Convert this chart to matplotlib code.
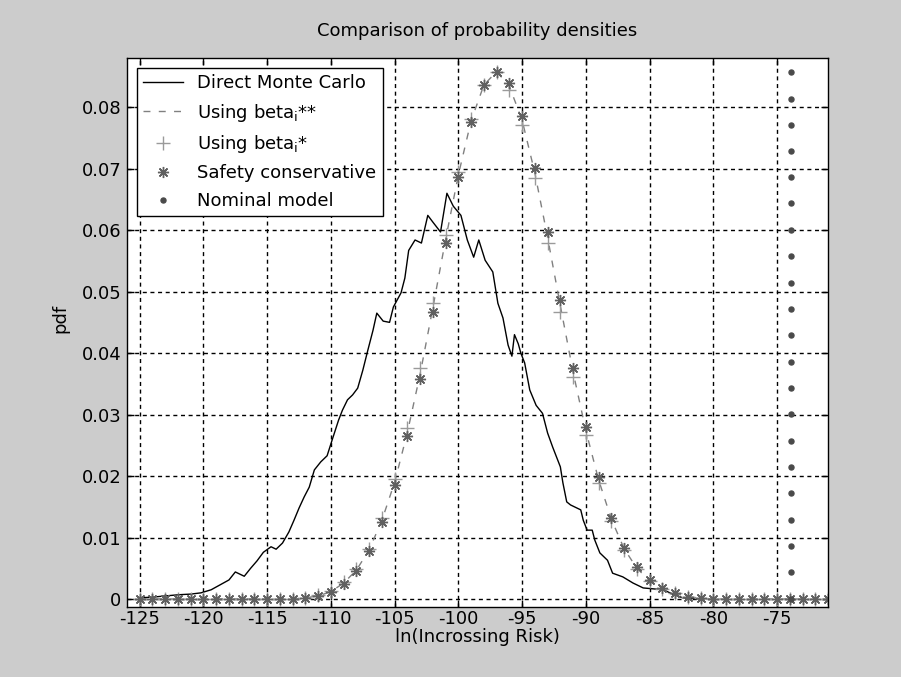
import matplotlib
matplotlib.use("Agg")
import matplotlib.pyplot as plt

plt.rcParams['font.family'] = ['DejaVu Sans']
plt.rcParams['axes.unicode_minus'] = False

# ---------------- data ----------------
# Direct Monte Carlo (noisy histogram curve)
mc_x = [-125.0, -124.0, -123.0, -121.9, -121.0, -120.2, -119.4, -118.7, -118.0, -117.5,
        -116.8, -116.3, -115.8, -115.3, -114.7, -114.3, -113.8, -113.3, -112.9, -112.5,
        -112.1, -111.7, -111.3, -110.8, -110.3, -109.9, -109.4, -109.1, -108.7, -108.3,
        -107.9, -107.5, -107.1, -106.7, -106.4, -105.9, -105.4, -105.1, -104.5, -104.2,
        -103.9, -103.4, -102.9, -102.4, -102.0, -101.4, -100.9, -100.4, -99.8, -99.3,
        -98.8, -98.4, -97.9, -97.3, -96.9, -96.5, -96.1, -95.8, -95.6, -95.3,
        -95.1, -94.8, -94.4, -93.9, -93.4, -93.0, -92.6, -92.0, -91.8, -91.5,
        -91.2, -90.4, -90.2, -89.9, -89.5, -89.3, -88.9, -88.3, -87.9, -87.1,
        -86.3, -85.5, -83.9, -83.1, -82.4, -81.0]
mc_y = [0.0002, 0.0003, 0.0005, 0.0007, 0.0008, 0.0010, 0.0015, 0.0023, 0.0031, 0.0044,
        0.0037, 0.0050, 0.0062, 0.0076, 0.0085, 0.0081, 0.0091, 0.0109, 0.0128, 0.0148,
        0.0166, 0.0182, 0.0210, 0.0223, 0.0233, 0.0259, 0.0291, 0.0307, 0.0324, 0.0332,
        0.0343, 0.0372, 0.0405, 0.0437, 0.0465, 0.0452, 0.0450, 0.0475, 0.0498, 0.0522,
        0.0567, 0.0584, 0.0579, 0.0624, 0.0613, 0.0597, 0.0660, 0.0639, 0.0624, 0.0584,
        0.0556, 0.0584, 0.0551, 0.0532, 0.0481, 0.0457, 0.0413, 0.0395, 0.0430, 0.0415,
        0.0400, 0.0384, 0.0340, 0.0315, 0.0302, 0.0270, 0.0247, 0.0215, 0.0189, 0.0158,
        0.0153, 0.0145, 0.0128, 0.0112, 0.0112, 0.0096, 0.0075, 0.0063, 0.0042, 0.0036,
        0.0026, 0.0018, 0.0015, 0.0007, 0.0002, 0.0000]

# integer grid of ln(risk) used by the analytic models
grid_x = list(range(-125, -70))

beta2_y = [0, 0, 0, 0, 0, 0, 0, 0, 0, 0, 0, 0, 0,
           0.0002, 0.0005, 0.0012, 0.0026, 0.0047, 0.0080, 0.0128, 0.0190, 0.0271, 0.0366,
           0.0474, 0.0585, 0.0690, 0.0778, 0.0836, 0.0858, 0.0834, 0.0779, 0.0693, 0.0588,
           0.0477, 0.0369, 0.0274, 0.0194, 0.0130, 0.0082, 0.0050, 0.0030, 0.0017, 0.0009,
           0.0004, 0.0001,
           0, 0, 0, 0, 0, 0, 0, 0, 0, 0]

beta1_y = [0, 0, 0, 0, 0, 0, 0, 0, 0, 0, 0, 0, 0,
           0.0002, 0.0006, 0.0013, 0.0027, 0.0049, 0.0082, 0.0132, 0.0196, 0.0278, 0.0376,
           0.0481, 0.0592, 0.0694, 0.0780, 0.0836, 0.0857, 0.0828, 0.0771, 0.0685, 0.0579,
           0.0467, 0.0361, 0.0267, 0.0189, 0.0127, 0.0080, 0.0049, 0.0029, 0.0017, 0.0009,
           0.0004, 0.0001,
           0, 0, 0, 0, 0, 0, 0, 0, 0, 0]

safety_y = [0, 0, 0, 0, 0, 0, 0, 0, 0, 0, 0, 0, 0,
            0.0002, 0.0005, 0.0012, 0.0025, 0.0046, 0.0078, 0.0125, 0.0185, 0.0265, 0.0358,
            0.0467, 0.0579, 0.0686, 0.0776, 0.0836, 0.0858, 0.0840, 0.0786, 0.0701, 0.0597,
            0.0486, 0.0376, 0.0280, 0.0198, 0.0132, 0.0083, 0.0052, 0.0031, 0.0018, 0.0010,
            0.0004, 0.0001,
            0, 0, 0, 0, 0, 0, 0, 0, 0, 0]

nominal_x = -73.9
nominal_y = [0.0, 0.0044, 0.0086, 0.0128, 0.0172, 0.0215, 0.0257, 0.0301, 0.0343, 0.0385,
             0.0429, 0.0472, 0.0514, 0.0558, 0.0600, 0.0644, 0.0686, 0.0728, 0.0771, 0.0813,
             0.0857]

xticks = [-125, -120, -115, -110, -105, -100, -95, -90, -85, -80, -75]
xticklabels = ['-125', '-120', '-115', '-110', '-105', '-100', '-95', '-90', '-85', '-80', '-75']
yticks = [0, 0.01, 0.02, 0.03, 0.04, 0.05, 0.06, 0.07, 0.08]
yticklabels = ['0', '0.01', '0.02', '0.03', '0.04', '0.05', '0.06', '0.07', '0.08']

labels = ['Direct Monte Carlo', r'Using beta$_\mathregular{i}$**',
          r'Using beta$_\mathregular{i}$*', 'Safety conservative', 'Nominal model']

# ---------------- figure ----------------
W, H = 901, 677
fig = plt.figure(figsize=(W / 100, H / 100), dpi=100, facecolor='#cccccc')
ax = fig.add_axes([127 / W, (H - 607) / H, (828 - 127) / W, (607 - 58) / H])
ax.set_facecolor('white')

star = (8, 2, 0)
ax.plot(mc_x, mc_y, color='black', lw=1.0, label=labels[0])
ax.plot(grid_x, beta2_y, color='#808080', lw=1.0, linestyle=(0, (5, 6)), label=labels[1])
ax.plot(grid_x, beta1_y, linestyle='none', marker='+', markersize=10, markeredgewidth=1.0,
        color='#9a9a9a', label=labels[2])
ax.plot(grid_x, safety_y, linestyle='none', marker=star, markersize=8, markeredgewidth=1.0,
        color='#606060', label=labels[3])
ax.plot([nominal_x] * len(nominal_y), nominal_y, linestyle='none', marker='o', markersize=3.6,
        color='#4a4a4a', label=labels[4])

ax.set_xlim(-126, -71)
ax.set_ylim(-0.0013, 0.088)
ax.set_xticks(xticks)
ax.set_xticklabels(xticklabels)
ax.set_yticks(yticks)
ax.set_yticklabels(yticklabels)
ax.tick_params(direction='in', length=5, width=1, top=True, right=True,
               labelsize=13, colors='black')
ax.tick_params(axis='x', pad=2)
ax.tick_params(axis='y', pad=4)
for s in ax.spines.values():
    s.set_linewidth(1.0)
    s.set_color('black')

ax.grid(True, color='black', linestyle=(0, (2.9, 2.6)), linewidth=1.0)

ax.set_title('Comparison of probability densities', fontsize=13, pad=16)
ax.set_xlabel('ln(Incrossing Risk)', fontsize=13, labelpad=0)
ax.set_ylabel('pdf', fontsize=13)
ax.yaxis.set_label_coords((69 - 127) / 701, (607 - 318) / 549)

leg = ax.legend(loc='upper left', bbox_to_anchor=(10 / 701, 1 - 10 / 549), borderaxespad=0,
                fontsize=13, frameon=True, fancybox=False, framealpha=1, edgecolor='black',
                handlelength=2.2, handletextpad=0.8, labelspacing=0.52, borderpad=0.35)
leg.get_frame().set_linewidth(1.0)

fig.savefig('out.png', dpi=100, facecolor=fig.get_facecolor())
